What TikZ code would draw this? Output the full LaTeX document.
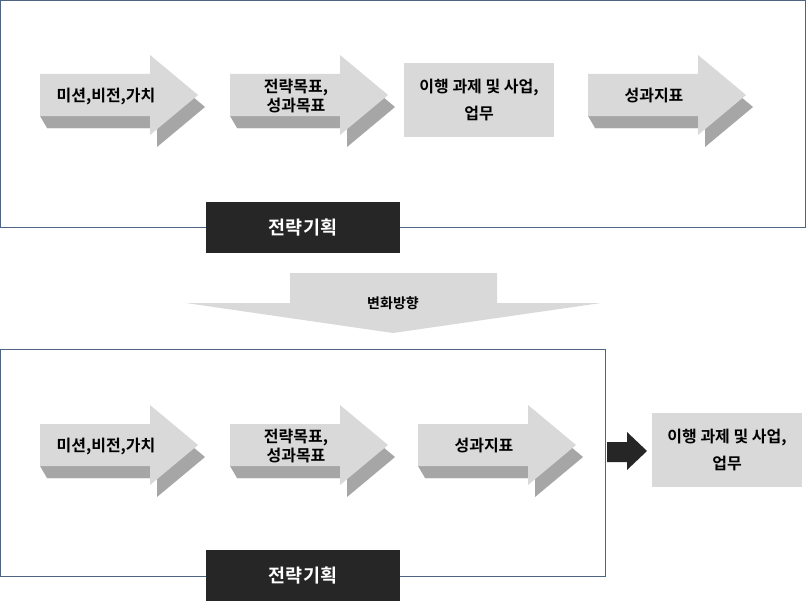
\documentclass[tikz,border=0pt]{standalone}
\usepackage{fontspec}
\setmainfont{Noto Sans CJK KR}
\newfontfamily\kr{Noto Sans CJK KR}[BoldFont={Noto Sans CJK KR Bold}]
\definecolor{front}{HTML}{D9D9D9}
\definecolor{side}{HTML}{A6A6A6}
\definecolor{frame}{HTML}{4F6480}
\definecolor{dark}{HTML}{262626}
\newcommand\myarrow[3]{%
  % #1 = left x, #2 = centre y, #3 = name
  \fill[side] ([shift={(7,12)}]#1,#2-21) -- ([shift={(7,12)}]#1+110,#2-21) -- ([shift={(7,12)}]#1+110,#2-40)
     -- ([shift={(7,12)}]#1+158,#2) -- ([shift={(7,12)}]#1+110,#2+40) -- ([shift={(7,12)}]#1+110,#2+21)
     -- ([shift={(7,12)}]#1,#2+21) -- cycle;
  \fill[side] (#1,#2+21) -- (#1+7,#2+33) -- (#1+117,#2+33) -- (#1+110,#2+21) -- cycle;
  \fill[front] (#1,#2-21) -- (#1+110,#2-21) -- (#1+110,#2-40) -- (#1+158,#2)
     -- (#1+110,#2+40) -- (#1+110,#2+21) -- (#1,#2+21) -- cycle;
  \coordinate (#3) at (#1+66,#2+1);
}
\tikzset{
  lbl/.style={font=\kr\bfseries\fontsize{16}{18.5}\selectfont, align=center, text=black, inner sep=0pt},
  boxlbl/.style={font=\kr\bfseries\fontsize{16}{27}\selectfont, align=center, text=black, inner sep=0pt},
  taskbox/.style={fill=front, draw=none, minimum width=150pt, minimum height=74pt, inner sep=0pt},
  tagbox/.style={fill=dark, draw=none, minimum width=194pt, minimum height=51pt, inner sep=0pt,
     text=white, font=\kr\bfseries\fontsize{18.5}{22}\selectfont},
  framebox/.style={draw=frame, line width=0.9pt}
}
\begin{document}
\begin{tikzpicture}[x=1pt,y=-1pt]
\useasboundingbox (0,0) rectangle (806,602);
\fill[white] (0,0) rectangle (806,602);
% frames
\draw[framebox] (0.5,0.5) rectangle (805.5,227);
\draw[framebox] (0.5,349.5) rectangle (605,576);
% top row
\myarrow{40}{95}{a1}
\node[lbl] (t1) at (a1) {미션,비전,가치};
\myarrow{230}{95}{a2}
\node[lbl] (t2) at (a2) {전략목표,\\성과목표};
\node[taskbox, boxlbl] (task1) at (479,100) {이행 과제 및 사업,\\업무};
\myarrow{588}{95}{a4}
\node[lbl] (t4) at (a4) {성과지표};
\node[tagbox] (tag1) at (303,227.5) {전략기획};
% change direction arrow
\fill[front] (290,273) -- (497,273) -- (497,303) -- (601,303) -- (393,333) -- (186,303) -- (290,303) -- cycle;
\node[font=\kr\bfseries\fontsize{14}{16}\selectfont] (chg) at (393,303) {변화방향};
% bottom row
\myarrow{40}{445}{b1}
\node[lbl] (u1) at (b1) {미션,비전,가치};
\myarrow{230}{445}{b2}
\node[lbl] (u2) at (b2) {전략목표,\\성과목표};
\myarrow{418}{445}{b3}
\node[lbl] (u3) at (b3) {성과지표};
\node[tagbox] (tag2) at (303,575.5) {전략기획};
% black arrow and task box
\node[taskbox, boxlbl] (task2) at (727,449.5) {이행 과제 및 사업,\\업무};
\fill[dark] (607,442) -- (627,442) -- (627,432) -- (647,451) -- (627,470) -- (627,462) -- (607,462) -- cycle;
\end{tikzpicture}
\end{document}
